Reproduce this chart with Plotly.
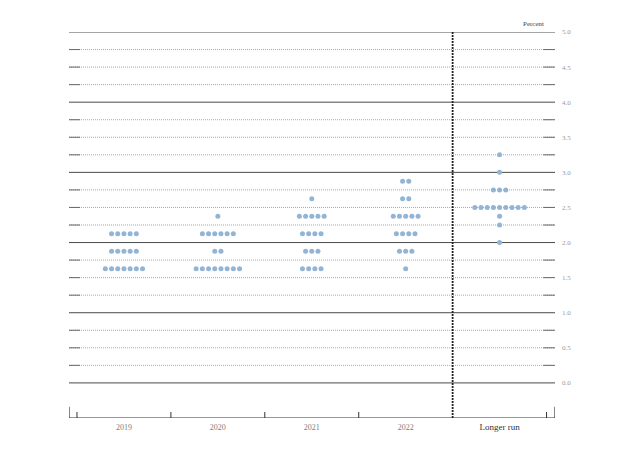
import plotly.graph_objects as go

# ---- data ----
categories = ["2019", "2020", "2021", "2022", "Longer run"]

levels_2019 = [1.625, 1.875, 2.125]
counts_2019 = [7, 5, 5]

levels_2020 = [1.625, 1.875, 2.125, 2.375]
counts_2020 = [8, 2, 6, 1]

levels_2021 = [1.625, 1.875, 2.125, 2.375, 2.625]
counts_2021 = [4, 3, 4, 5, 1]

levels_2022 = [1.625, 1.875, 2.125, 2.375, 2.625, 2.875]
counts_2022 = [1, 3, 4, 5, 2, 2]

levels_lr = [2.0, 2.25, 2.375, 2.5, 2.75, 3.0, 3.25]
counts_lr = [1, 1, 1, 9, 3, 1, 1]

y_tick_vals = [0.0, 0.5, 1.0, 1.5, 2.0, 2.5, 3.0, 3.5, 4.0, 4.5, 5.0]
y_tick_text = ["0.0", "0.5", "1.0", "1.5", "2.0", "2.5", "3.0", "3.5", "4.0", "4.5", "5.0"]

columns = [
    (levels_2019, counts_2019),
    (levels_2020, counts_2020),
    (levels_2021, counts_2021),
    (levels_2022, counts_2022),
    (levels_lr, counts_lr),
]

# ---- styling ----
DOT_COLOR = "#92b4d5"
SOLID = "#4a4a4a"
DOTTED = "#a8a8a8"
SEG = "#6a6a6a"
SERIF = "Liberation Serif, Times New Roman, serif"
XMIN, XMAX = -0.585, 4.59
YMIN, YMAX = -0.5, 5.0
SPACING = 0.066

xs, ys = [], []
for ci, (levels, counts) in enumerate(columns):
    for lev, n in zip(levels, counts):
        for k in range(n):
            xs.append(ci + (k - (n - 1) / 2) * SPACING)
            ys.append(lev)

fig = go.Figure()

shapes = []
# horizontal grid lines every 0.25
for q in range(0, 21):
    yv = q * 0.25
    if q % 4 == 0:
        shapes.append(dict(type="line", xref="x", yref="y", x0=XMIN, x1=XMAX, y0=yv, y1=yv,
                           line=dict(color=SOLID, width=1), layer="below"))
    else:
        shapes.append(dict(type="line", xref="x", yref="y", x0=XMIN, x1=XMAX, y0=yv, y1=yv,
                           line=dict(color=DOTTED, width=1, dash="1px,1px"), layer="below"))
        shapes.append(dict(type="line", xref="x", yref="y", x0=XMIN, x1=XMIN + 0.118, y0=yv, y1=yv,
                           line=dict(color=SEG, width=1), layer="below"))
        shapes.append(dict(type="line", xref="x", yref="y", x0=XMAX - 0.125, x1=XMAX, y0=yv, y1=yv,
                           line=dict(color=SEG, width=1), layer="below"))

# bottom axis line
shapes.append(dict(type="line", xref="x", yref="y", x0=XMIN, x1=XMAX, y0=YMIN, y1=YMIN,
                   line=dict(color="#333333", width=1.2)))
# end ticks (taller)
for xv in [XMIN, XMAX]:
    shapes.append(dict(type="line", xref="x", yref="y", x0=xv, x1=xv, y0=YMIN, y1=YMIN + 0.16,
                       line=dict(color="#333333", width=1.2)))
# category boundary ticks
for b in [-0.5, 0.5, 1.5, 2.5, 4.5]:
    shapes.append(dict(type="line", xref="x", yref="y", x0=b, x1=b, y0=YMIN, y1=YMIN + 0.085,
                       line=dict(color="#333333", width=1)))
# vertical dashed separator before Longer run
shapes.append(dict(type="line", xref="x", yref="y", x0=3.5, x1=3.5, y0=YMIN, y1=YMAX,
                   line=dict(color="#222222", width=1.8, dash="2px,1px")))

fig.add_trace(go.Scatter(
    x=xs, y=ys, mode="markers",
    marker=dict(color=DOT_COLOR, size=5, line=dict(width=0)),
    hoverinfo="skip", showlegend=False, cliponaxis=False,
))

fig.update_layout(
    width=620, height=473,
    margin=dict(l=69, r=65, t=32, b=55),
    paper_bgcolor="white", plot_bgcolor="white",
    shapes=shapes,
    showlegend=False,
    xaxis=dict(
        range=[XMIN, XMAX], showgrid=False, zeroline=False, showline=False,
        tickvals=[0, 1, 2, 3, 4],
        ticktext=["2019", "2020", "2021", "2022",
                  "<span style='color:#333333;font-size:9px'>Longer run</span>"],
        ticks="", tickfont=dict(family=SERIF, size=8, color="#808080"),
        ticklabelstandoff=3, fixedrange=True,
    ),
    yaxis=dict(
        range=[YMIN, YMAX], side="right", showgrid=False, zeroline=False, showline=False,
        tickvals=y_tick_vals, ticktext=y_tick_text, ticks="",
        tickfont=dict(family=SERIF, size=7, color="#9a9a9a"),
        ticklabelstandoff=6, fixedrange=True,
    ),
    annotations=[dict(
        text="Percent", xref="x", yref="paper", x=XMAX, y=1, xanchor="right", yanchor="middle",
        xshift=-9, yshift=8, showarrow=False,
        font=dict(family=SERIF, size=7, color="#444444"),
    )],
)

fig.write_html("out.html")
